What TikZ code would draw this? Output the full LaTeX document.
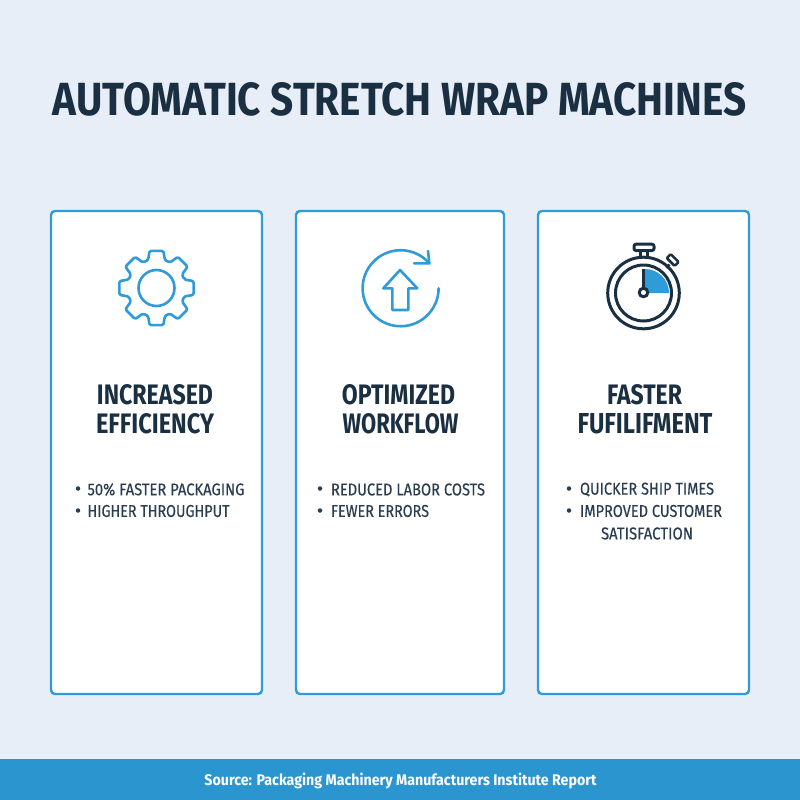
\documentclass[tikz,border=0pt]{standalone}
\usepackage{fontspec}
\usepackage{graphicx}
\setmainfont{Fira Sans}
\newfontfamily\medf[FakeBold=0.35]{Fira Sans}
\definecolor{bgc}{HTML}{E8EEF7}
\definecolor{bluec}{HTML}{2F9BD9}
\definecolor{barc}{HTML}{2B95D0}
\definecolor{darkc}{HTML}{1B2F42}
\definecolor{textc}{HTML}{2A3D50}
\newcommand{\fitw}[3]{\resizebox{#1pt}{#2pt}{#3}}
\tikzset{
 x=1pt,y=-1pt,
 card/.style={draw=bluec,line width=2.4pt,fill=white,rounded corners=4pt},
 icon/.style={draw=bluec,line width=2.6pt,line join=round},
 watch/.style={draw=darkc,line width=3pt,line join=round},
 lab/.style={inner sep=0pt,outer sep=0pt,text=darkc,font=\bfseries},
 bul/.style={inner sep=0pt,outer sep=0pt,text=textc,font=\medf},
 dot/.style={circle,fill=textc,inner sep=0pt,minimum size=4.5pt}
}
\begin{document}
\begin{tikzpicture}
\useasboundingbox (0,0) rectangle (800,800);
\fill[bgc] (0,0) rectangle (800,800);
\fill[barc] (0,759) rectangle (800,800);
\node[lab] (title) at (399.5,99.5) {\fitw{693}{33}{AUTOMATIC STRETCH WRAP MACHINES}};
\draw[card] (51,211) rectangle (262,694);
\draw[card] (296,211) rectangle (504,694);
\draw[card] (538,211) rectangle (749,694);
% gear
\begin{scope}[shift={(156.5,288)}]
\draw[icon,rounded corners=1.5pt] (-17:29)
 \foreach \a in {0,45,...,315} {
  -- ({\a-10.5}:37.8) -- ({\a+10.5}:37.8) -- ({\a+17}:29) -- ({\a+28}:29)
 } -- cycle;
\draw[icon] (0,0) circle (18);
\end{scope}
% refresh arrow
\draw[icon,line cap=round] (429.3,263.3) arc[start angle=-41,end angle=-360,radius=38];
\draw[icon,line cap=round] (428,251) -- (429.3,263.3) -- (414,263.3);
\draw[icon] (400,270) -- (417.3,288.3) -- (408.3,288.3) -- (408.3,310) -- (392.3,310) -- (392.3,288.3) -- (383.3,288.3) -- cycle;
% stopwatch
\fill[bluec] (645,293) -- (645,269) arc[start angle=-90,end angle=0,radius=24] -- cycle;
\draw[watch] (643.5,293) circle (35.8);
\draw[watch] (643.5,293) circle (28);
\draw[watch,rounded corners=2pt] (634,244.2) rectangle (654,250.5);
\draw[watch] (640.5,251) -- (640.5,256.5);
\draw[watch] (647,251) -- (647,256.5);
\begin{scope}[shift={(672.7,260)},rotate=-45]
\draw[watch,line width=2.5pt,rounded corners=1pt] (-5.6,-2.8) rectangle (5.6,2.8);
\end{scope}
\draw[watch,line width=2.5pt] (666.5,268) -- (669.5,264.5);
\draw[watch] (643.5,269) -- (643.5,288);
\draw[watch,fill=white] (643.5,292.5) circle (4.3);
% headings
\node[lab] (h1a) at (155,395) {\fitw{116}{20}{INCREASED}};
\node[lab] (h1b) at (155,424) {\fitw{118}{20}{EFFICIENCY}};
\node[lab] (h2a) at (398.5,395) {\fitw{113}{20}{OPTIMIZED}};
\node[lab] (h2b) at (400.5,424) {\fitw{116}{20}{WORKFLOW}};
\node[lab] (h3a) at (644.5,395) {\fitw{75}{20}{FASTER}};
\node[lab] (h3b) at (645,424) {\fitw{135}{20}{FUFILIFMENT}};
% bullets
\node[dot] (d1) at (78,488.5) {};
\node[dot] (d2) at (78,510.5) {};
\node[bul,anchor=west] (t1) at (87.5,489.5) {\fitw{157}{12}{50\% FASTER PACKAGING}};
\node[bul,anchor=west] (t2) at (87.5,511) {\fitw{142}{12}{HIGHER THROUGHPUT}};
\node[dot] (d3) at (320,488.5) {};
\node[dot] (d4) at (320,510.5) {};
\node[bul,anchor=west] (t3) at (331,489.5) {\fitw{154}{12}{REDUCED LABOR COSTS}};
\node[bul,anchor=west] (t4) at (331,511) {\fitw{98}{12}{FEWER ERRORS}};
\node[dot] (d5) at (569,488.5) {};
\node[dot] (d6) at (569,510.5) {};
\node[bul,anchor=west] (t5) at (580,489.5) {\fitw{134}{12}{QUICKER SHIP TIMES}};
\node[bul,anchor=west] (t6) at (580,511) {\fitw{142}{12}{IMPROVED CUSTOMER}};
\node[bul,anchor=west] (t7) at (601,533.5) {\fitw{92}{12}{SATISFACTION}};
\node[inner sep=0pt,text=white,font=\bfseries,anchor=base] (src) at (400.5,785) {\fitw{392}{12.5}{Source: Packaging Machinery Manufacturers Institute Report}};
\end{tikzpicture}
\end{document}
